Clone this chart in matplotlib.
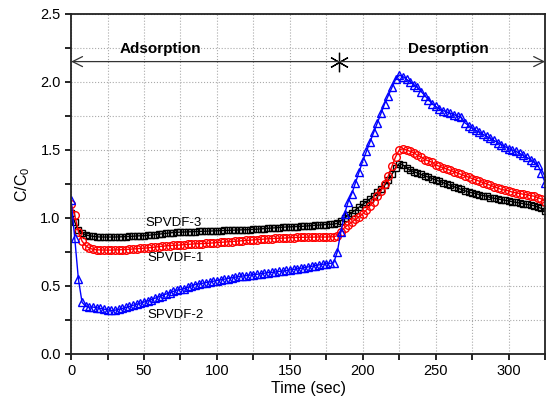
#Concentration ratio C/C0 over time for the three SPVDF membranes

import numpy as np
import matplotlib.pyplot as plt
from matplotlib.ticker import MultipleLocator

plt.rcParams['font.family'] = ['Liberation Sans', 'DejaVu Sans']
plt.rcParams['mathtext.fontset'] = 'custom'
plt.rcParams['mathtext.rm'] = 'Liberation Sans'
plt.rcParams['mathtext.it'] = 'Liberation Sans'

# sampling every 2.5 s from 0 to 325 s
time = np.arange(0, 325.1, 2.5)

spvdf3 = [1.04, 0.97, 0.91, 0.89, 0.875, 0.87, 0.865, 0.862, 0.86, 0.86,
          0.86, 0.86, 0.86, 0.861, 0.862, 0.863, 0.864, 0.866, 0.868, 0.869,
          0.87, 0.872, 0.875, 0.878, 0.881, 0.884, 0.887, 0.89, 0.893, 0.895,
          0.896, 0.897, 0.898, 0.899, 0.90, 0.901, 0.902, 0.903, 0.904, 0.905,
          0.906, 0.907, 0.908, 0.909, 0.91, 0.911, 0.912, 0.913, 0.914, 0.915,
          0.916, 0.918, 0.92, 0.922, 0.924, 0.926, 0.928, 0.93, 0.932, 0.934,
          0.935, 0.936, 0.937, 0.938, 0.94, 0.942, 0.944, 0.946, 0.948, 0.95,
          0.952, 0.954, 0.955, 0.96, 0.98, 1.00, 1.02, 1.04, 1.06, 1.08,
          1.10, 1.12, 1.14, 1.16, 1.19, 1.21, 1.24, 1.28, 1.32, 1.37,
          1.40, 1.39, 1.37, 1.35, 1.34, 1.33, 1.32, 1.31, 1.30, 1.29,
          1.28, 1.27, 1.26, 1.25, 1.24, 1.23, 1.22, 1.21, 1.20, 1.19,
          1.185, 1.18, 1.17, 1.165, 1.16, 1.15, 1.145, 1.14, 1.135, 1.13,
          1.125, 1.12, 1.115, 1.11, 1.105, 1.10, 1.095, 1.09, 1.08, 1.07,
          1.05]

spvdf1 = [1.10, 1.02, 0.90, 0.83, 0.795, 0.778, 0.77, 0.766, 0.765, 0.764,
          0.764, 0.764, 0.765, 0.766, 0.767, 0.768, 0.77, 0.772, 0.774, 0.776,
          0.778, 0.78, 0.783, 0.786, 0.789, 0.792, 0.795, 0.797, 0.799, 0.80,
          0.802, 0.804, 0.806, 0.808, 0.81, 0.811, 0.812, 0.813, 0.815, 0.817,
          0.819, 0.821, 0.823, 0.825, 0.827, 0.829, 0.831, 0.833, 0.835, 0.837,
          0.839, 0.841, 0.843, 0.845, 0.847, 0.849, 0.85, 0.851, 0.852, 0.853,
          0.855, 0.856, 0.857, 0.858, 0.858, 0.859, 0.859, 0.86, 0.86, 0.86,
          0.86, 0.861, 0.862, 0.87, 0.90, 0.93, 0.95, 0.97, 0.99, 1.01,
          1.03, 1.06, 1.09, 1.12, 1.16, 1.20, 1.25, 1.31, 1.38, 1.45,
          1.50, 1.51, 1.50, 1.49, 1.48, 1.46, 1.45, 1.43, 1.42, 1.41,
          1.39, 1.38, 1.37, 1.36, 1.35, 1.34, 1.33, 1.32, 1.31, 1.30,
          1.29, 1.28, 1.27, 1.26, 1.25, 1.24, 1.23, 1.22, 1.21, 1.205,
          1.20, 1.19, 1.185, 1.18, 1.175, 1.17, 1.165, 1.16, 1.15, 1.14,
          1.12]

spvdf2 = [1.13, 0.85, 0.55, 0.38, 0.35, 0.345, 0.345, 0.34, 0.335, 0.33,
          0.325, 0.32, 0.322, 0.328, 0.335, 0.342, 0.35, 0.358, 0.366, 0.374,
          0.382, 0.39, 0.40, 0.41, 0.42, 0.43, 0.44, 0.45, 0.46, 0.47,
          0.475, 0.48, 0.49, 0.50, 0.51, 0.515, 0.52, 0.525, 0.53, 0.535,
          0.54, 0.545, 0.55, 0.555, 0.56, 0.565, 0.57, 0.573, 0.576, 0.58,
          0.583, 0.586, 0.59, 0.594, 0.598, 0.60, 0.603, 0.607, 0.61, 0.614,
          0.618, 0.622, 0.626, 0.63, 0.635, 0.64, 0.645, 0.65, 0.655, 0.66,
          0.663, 0.666, 0.67, 0.75, 0.90, 1.03, 1.12, 1.18, 1.26, 1.34,
          1.42, 1.49, 1.56, 1.63, 1.70, 1.77, 1.84, 1.90, 1.96, 2.02,
          2.05, 2.04, 2.02, 2.00, 1.98, 1.96, 1.93, 1.90, 1.87, 1.84,
          1.82, 1.80, 1.79, 1.78, 1.77, 1.76, 1.75, 1.74, 1.70, 1.68,
          1.66, 1.645, 1.63, 1.615, 1.60, 1.585, 1.57, 1.555, 1.54, 1.525,
          1.51, 1.50, 1.49, 1.475, 1.46, 1.445, 1.43, 1.41, 1.39, 1.33,
          1.26]

switch_time = 183.5
arrow_level = 2.15

fig = plt.figure(figsize=(5.47, 4.08), dpi=100)
ax = fig.add_axes([0.130, 0.1324, 0.8665, 0.8333])

ax.plot(time, spvdf3, color='black', lw=1, marker='s', ms=5, mfc='none', mew=1)
ax.plot(time, spvdf1, color='red', lw=1, marker='o', ms=5.5, mfc='none', mew=1)
ax.plot(time, spvdf2, color='blue', lw=1, marker='^', ms=6, mfc='none', mew=1)

ax.text(51, 0.965, 'SPVDF-3', fontsize=9.5, va='center')
ax.text(52, 0.705, 'SPVDF-1', fontsize=9.5, va='center')
ax.text(52.5, 0.287, 'SPVDF-2', fontsize=9.5, va='center')

# adsorption / desorption arrow
ax.annotate('', xy=(0, arrow_level), xytext=(325, arrow_level),
            arrowprops=dict(arrowstyle='<->', lw=0.9, color='#333333',
                            mutation_scale=18, shrinkA=0, shrinkB=0))
ax.plot([switch_time], [arrow_level], marker=(6, 2, 0), ms=14, color='black', mew=0.9)
ax.text(61, 2.24, 'Adsorption', fontsize=11, fontweight='bold', ha='center', va='center')
ax.text(259, 2.24, 'Desorption', fontsize=11, fontweight='bold', ha='center', va='center')

ax.set_xlim(0, 325)
ax.set_ylim(0, 2.5)
ax.xaxis.set_major_locator(MultipleLocator(50))
ax.xaxis.set_minor_locator(MultipleLocator(25))
ax.yaxis.set_major_locator(MultipleLocator(0.5))
ax.yaxis.set_minor_locator(MultipleLocator(0.25))
ax.yaxis.set_major_formatter(plt.FormatStrFormatter('%.1f'))
ax.grid(which='both', color='#aaaaaa', linestyle=':', lw=0.8)
ax.set_axisbelow(True)
ax.tick_params(which='both', direction='out', labelsize=10.5, width=1.2)
ax.tick_params(which='major', length=4)
ax.tick_params(which='minor', length=4)
for sp in ax.spines.values():
    sp.set_linewidth(1.3)
    sp.set_color('#222222')

ax.set_xlabel('Time (sec)', fontsize=11.5, labelpad=2)
ax.set_ylabel('C/C$_0$', fontsize=11.5, labelpad=6)

fig.savefig('out.png', dpi=100)
